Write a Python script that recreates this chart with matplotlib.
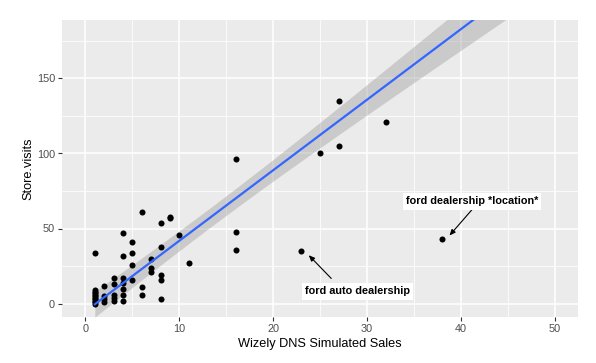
import numpy as np
import matplotlib
matplotlib.use("Agg")
import matplotlib.pyplot as plt

# points
sales = [1, 1, 1, 1, 1, 1, 1, 1, 1, 1, 1,
         2, 2, 2, 2,
         3, 3, 3, 3, 3,
         4, 4, 4, 4, 4, 4, 4,
         5, 5, 5, 5,
         6, 6, 6,
         7, 7, 7,
         8, 8, 8, 8, 8,
         9, 9, 10, 11,
         16, 16, 16, 23, 25, 27, 27, 32, 38]
visits = [0, 1, 2, 3, 4, 5, 6, 7, 8, 9, 34,
          1, 3, 5, 12,
          2, 4, 6, 13, 17,
          2, 6, 10, 14, 17, 32, 47,
          16, 26, 34, 41,
          6, 11, 61,
          21, 24, 30,
          3, 16, 19, 38, 54,
          57, 58, 46, 27,
          36, 48, 96, 35, 100, 105, 135, 121, 43]

# lm fit as drawn (line and 95% band)
fit_intercept = -5.2
fit_slope = 4.7
fit_x_from, fit_x_to = 1, 46
band_center = 13.2
band_min = 6.5
band_growth = 0.216

labels = ["ford dealership *location*", "ford auto dealership"]
label_pos = [(41.2, 68), (29.0, 8)]
arrow_tail = [(41.4, 64), (26.2, 16.7)]
arrow_head = [(38.8, 45.3), (23.8, 32.2)]

plt.rcParams['font.family'] = ['Liberation Sans', 'DejaVu Sans']

fig = plt.figure(figsize=(5.96, 3.63), dpi=100)
ax = fig.add_axes([62 / 596, 1 - 317 / 363, 516 / 596, 297 / 363])
ax.set_facecolor("#EBEBEB")
for s in ax.spines.values():
    s.set_visible(False)

ax.set_xlim(-2.5, 52.5)
ax.set_ylim(-9, 189)
ax.set_xticks([0, 10, 20, 30, 40, 50])
ax.set_yticks([0, 50, 100, 150])
ax.set_xticks([5, 15, 25, 35, 45], minor=True)
ax.set_yticks([25, 75, 125, 175], minor=True)
ax.grid(which="major", color="white", linewidth=1.1)
ax.grid(which="minor", color="white", linewidth=0.55)
ax.set_axisbelow(True)
ax.tick_params(which="major", length=3, width=0.8, color="#333333",
               labelcolor="#4D4D4D", labelsize=7.8, pad=2)
ax.tick_params(which="minor", length=0)

ax.scatter(sales, visits, s=19, color="black", zorder=3, linewidths=0)

xs = np.linspace(fit_x_from, fit_x_to, 200)
yfit = fit_intercept + fit_slope * xs
hw = np.sqrt(band_min ** 2 + band_growth * (xs - band_center) ** 2)
ax.fill_between(xs, yfit - hw, yfit + hw, color="#999999", alpha=0.4,
                linewidth=0, zorder=2)
ax.plot(xs, yfit, color="#3366FF", linewidth=1.6, zorder=4)

for txt, pos, tail, head in zip(labels, label_pos, arrow_tail, arrow_head):
    ax.annotate("", xy=head, xytext=tail,
                arrowprops=dict(arrowstyle="-|>,head_length=0.35,head_width=0.15",
                                color="black", lw=0.8, shrinkA=0, shrinkB=0),
                zorder=5)
    ax.text(pos[0], pos[1], txt, ha="center", va="center", fontsize=7.8,
            fontweight="bold", zorder=6,
            bbox=dict(boxstyle="square,pad=0.3", facecolor="white",
                      edgecolor="none"))

ax.set_xlabel("Wizely DNS Simulated Sales", fontsize=9.2, labelpad=3)
ax.set_ylabel("Store.visits", fontsize=9.2, labelpad=2)

fig.savefig("out.png", dpi=100)
